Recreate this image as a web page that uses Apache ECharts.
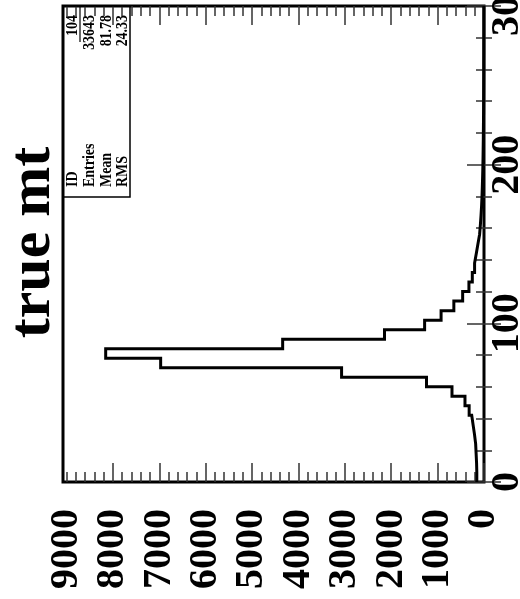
<!DOCTYPE html>
<html><head><meta charset="utf-8">
<script src="https://cdn.jsdelivr.net/npm/echarts@6/dist/echarts.min.js"></script>
<style>html,body{margin:0;padding:0;background:#fff}#c{width:520px;height:599px}</style>
</head><body><div id="c"></div>
<script>
const titleText = 'true mt';
const binWidth = 6;            // mt units per bin (50 bins on 0..300)
const mtMin = 0, mtMax = 300;
const counts = [155,160,170,180,205,235,265,320,410,690,
                1240,3070,6970,8155,4340,2145,1280,925,650,460,
                325,252,203,166,131,95,78,64,52,43,
                36,30,25,21,18,15,13,11,9,8,
                7,6,5,5,4,4,3,3,3,2];
const countLabels = [0,1000,2000,3000,4000,5000,6000,7000,8000,9000];
const countMax = 9075;
const mtLabels = [0,100,200,300];
const statNames = ['ID','Entries','Mean','RMS'];
const statValues = ['104','33643','81.78','24.33'];

const FONT = '"Liberation Serif","Times New Roman",serif';
const tickStyle = {color:'#333', width:1.5};

const outline = [];
counts.forEach((c, i) => {
  outline.push([c, i * binWidth]);
  outline.push([c, (i + 1) * binWidth]);
});

const majorX = countLabels.slice(0, -1);
const minorX = [];
for (let v = 200; v <= 9000; v += 200) if (v % 1000 !== 0 || v === 9000) minorX.push(v);

function xAx(pos, ticks, len, withLabels) {
  return {
    type:'value', min:0, max:countMax, inverse:true, position:pos,
    axisLine:{show:false}, splitLine:{show:false},
    axisTick:{show:true, inside:true, length:len, customValues:ticks, lineStyle:tickStyle},
    axisLabel: withLabels ? {show:true, customValues:countLabels, rotate:90, margin:27,
      formatter:v => String(v),
      fontFamily:FONT, fontWeight:'bold', fontSize:40, color:'#000'} : {show:false}
  };
}
function yAx(pos, withLabels) {
  return {
    type:'value', min:mtMin, max:mtMax, interval:100, position:pos,
    axisLine:{show:false}, splitLine:{show:false},
    axisTick:{show:true, inside:true, length:17, lineStyle:tickStyle},
    minorTick:{show:true, splitNumber:5, length:8, lineStyle:tickStyle},
    axisLabel: withLabels ? {show:true, customValues:mtLabels, rotate:90, margin:4,
      formatter:v => String(v),
      fontFamily:FONT, fontWeight:'bold', fontSize:40, color:'#000'} : {show:false}
  };
}

const rowX = [73, 90, 106.5, 123];
const statGraphics = [];
statNames.forEach((n, i) => {
  statGraphics.push({type:'text', x:rowX[i], y:187, rotation:Math.PI/2, scaleX:0.82,
    style:{text:n, font:'bold 17px ' + FONT, fill:'#000', align:'left', verticalAlign:'middle',
      textAlign:'left', textVerticalAlign:'middle'}, z:11});
  statGraphics.push({type:'text', x:rowX[i], y:15, rotation:Math.PI/2, scaleX:0.82,
    style:{text:statValues[i], font:'bold 17px ' + FONT, fill:'#000', align:'right', verticalAlign:'middle',
      textAlign:'right', textVerticalAlign:'middle'}, z:11});
});

const chart = echarts.init(document.getElementById('c'), null, {renderer:'canvas'});
chart.setOption({
  animation:false,
  backgroundColor:'#fff',
  grid:{left:63, right:36, top:6, bottom:117, containLabel:false, outerBoundsMode:'none',
    show:true, borderColor:'#000', borderWidth:3, backgroundColor:'transparent'},
  xAxis:[xAx('bottom', majorX, 19, true), xAx('bottom', minorX, 10, false),
         xAx('top', majorX, 19, false), xAx('top', minorX, 10, false)],
  yAxis:[yAx('right', true), yAx('left', false)],
  series:[{type:'line', xAxisIndex:0, yAxisIndex:0, data:outline, showSymbol:false,
    lineStyle:{color:'#000', width:3, join:'miter'}, z:3}],
  graphic:[
    {type:'text', x:33, y:242.5, rotation:Math.PI/2,
     style:{text:titleText, font:'bold 60px ' + FONT, fill:'#000', align:'center', verticalAlign:'middle',
       textAlign:'center', textVerticalAlign:'middle'}},
    {type:'rect', shape:{x:63, y:6, width:67, height:191}, style:{fill:null, stroke:'#000', lineWidth:1.5}, z:10},
    {type:'line', shape:{x1:80, y1:6, x2:80, y2:42}, style:{stroke:'#000', lineWidth:1.2}, z:10}
  ].concat(statGraphics)
});
</script></body></html>
